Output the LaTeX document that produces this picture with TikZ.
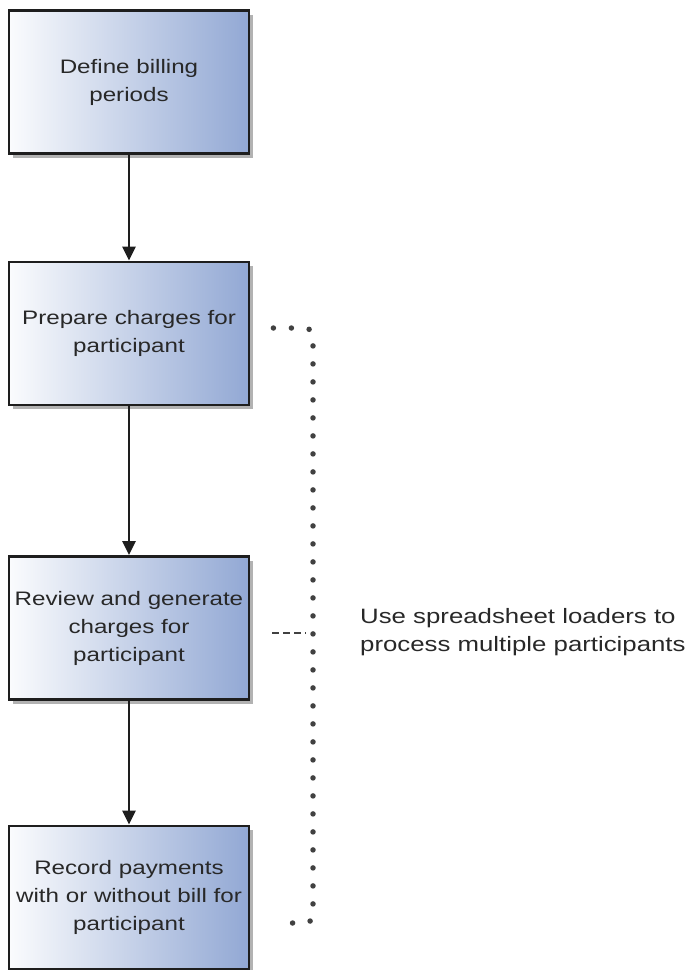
\documentclass[tikz,border=0pt]{standalone}
\usepackage{fontspec}
\setmainfont{Liberation Sans}[FakeStretch=1.24]
\usepackage{tikz}
\usetikzlibrary{arrows.meta, positioning, shadows}

\definecolor{boxblue}{RGB}{146,168,212}
\definecolor{boxline}{RGB}{30,30,30}
\definecolor{txtgray}{RGB}{40,40,40}
\definecolor{dotgray}{RGB}{65,65,65}

\begin{document}
\begin{tikzpicture}[
    x=1pt, y=-1pt,
    stepbox/.style={draw=boxline, line width=2.8pt, left color=white!96!boxblue, right color=boxblue,
        minimum width=240pt, minimum height=143pt, align=center, text=txtgray,
        font=\fontsize{19.5}{28}\selectfont,
        drop shadow={shadow xshift=4pt, shadow yshift=-4pt, opacity=0.3, fill=black}},
    arrowstyle/.style={-{Triangle[length=14pt, width=13pt]}, line width=2.6pt, draw=boxline},
    dotline/.style={dotgray, line width=5.5pt, line cap=round, dash pattern=on 0pt off 18pt, rounded corners=8pt},
]
    \useasboundingbox (0,0) rectangle (698,970);

    % Process steps
    \node[stepbox] (periods) at (129,82) {Define billing\\periods};
    \node[stepbox] (prepare) at (129,333.5) {Prepare charges for\\participant};
    \node[stepbox] (review) at (129,628) {Review and generate\\charges for\\participant};
    \node[stepbox] (record) at (129,897.5) {Record payments\\with or without bill for\\participant};

    % Flow arrows
    \draw[arrowstyle] (periods.south) -- (prepare.north);
    \draw[arrowstyle] (prepare.south) -- (review.north);
    \draw[arrowstyle] (review.south) -- (record.north);

    % Note on the right
    \node[anchor=west, align=left, inner sep=0pt, text=txtgray,
          font=\fontsize{20.8}{28.5}\selectfont] (loaders) at (360,632)
        {Use spreadsheet loaders to\\process multiple participants};

    % Dotted bracket from prepare to record
    \coordinate (brTop) at ([xshift=23pt, yshift=5.5pt]prepare.east);
    \coordinate (brBot) at ([xshift=34pt, yshift=-25.5pt]record.east);
    \coordinate (brTick) at ([xshift=22pt, yshift=-5pt]review.east);
    \draw[dotline] (brTop) -- (313,328) -- (313,923) -- (brBot);
    \draw[dotgray, line width=2.5pt, dash pattern=on 7pt off 4pt] (brTick) -- (306,633);
\end{tikzpicture}
\end{document}
